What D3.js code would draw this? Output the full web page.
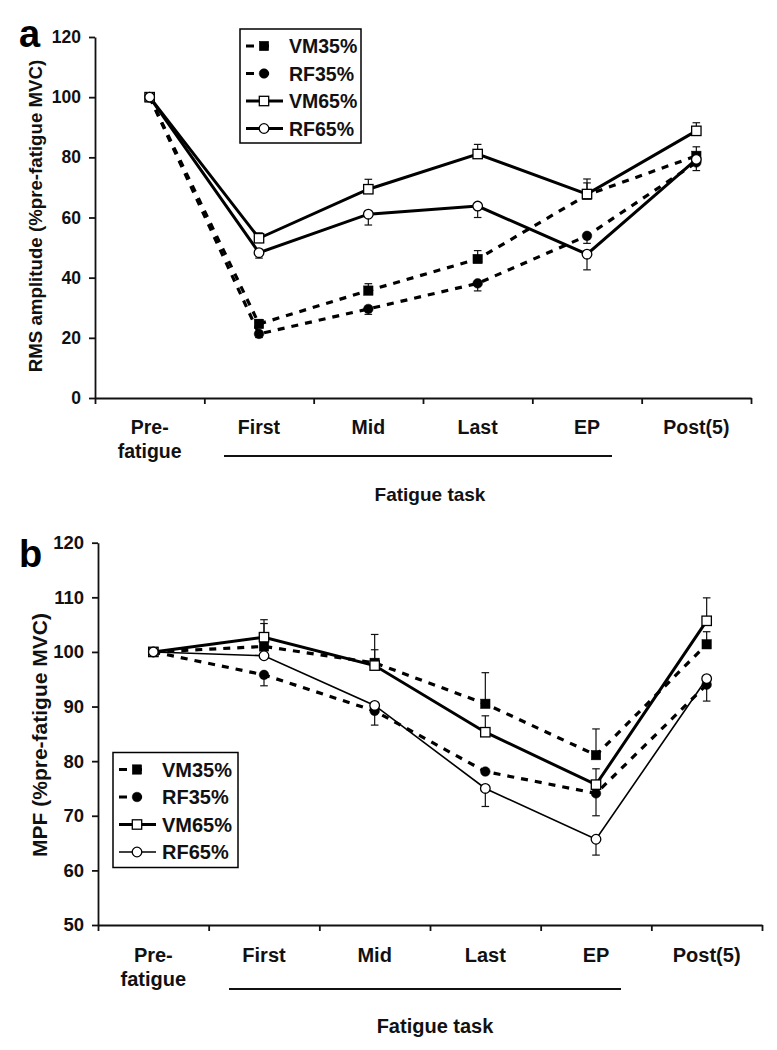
<!DOCTYPE html>
<html>
<head>
<meta charset="utf-8">
<script src="https://cdn.jsdelivr.net/npm/d3@7"></script>
<style>
  html, body { margin: 0; padding: 0; background: #fff; }
  svg text { font-family: "Liberation Sans", Arial, sans-serif; font-weight: bold; fill: #111; }
</style>
</head>
<body>
<svg id="chart" width="777" height="1050"></svg>
<script>
// ---------- DATA ----------
const categories = ["Pre-\nfatigue", "First", "Mid", "Last", "EP", "Post(5)"];
const seriesNames = ["VM35%", "RF35%", "VM65%", "RF65%"];

// Panel a: RMS amplitude (%pre-fatigue MVC)
const rmsVM35 = [100, 24.6, 35.7, 46.2, 67.5, 80.5];
const rmsRF35 = [100, 21.3, 29.6, 38.1, 53.9, 78.3];
const rmsVM65 = [100, 53.1, 69.4, 81.1, 67.8, 88.8];
const rmsRF65 = [100, 48.3, 61.1, 63.8, 47.8, 79.3];
// signed SE (positive = drawn upward, negative = downward)
const rmsVM35Err = [0, 1.5, 2.3, 2.8, 4.0, 3.0];
const rmsRF35Err = [0, -1.2, -1.8, -2.5, -2.5, -2.7];
const rmsVM65Err = [0, 1.8, 3.3, 3.2, 5.0, 2.7];
const rmsRF65Err = [0, -1.8, -3.6, -3.8, -5.2, 0];
const rmsTicks = [0, 20, 40, 60, 80, 100, 120];

// Panel b: MPF (%pre-fatigue MVC)
const mpfVM35 = [100, 101.0, 98.0, 90.5, 81.1, 101.4];
const mpfRF35 = [100, 95.8, 89.2, 78.1, 74.1, 94.0];
const mpfVM65 = [100, 102.7, 97.5, 85.3, 75.7, 105.7];
const mpfRF65 = [100, 99.3, 90.2, 75.0, 65.7, 95.1];
const mpfVM35Err = [0, 4.2, 5.2, 5.7, 4.8, 2.3];
const mpfRF35Err = [0, -2.0, -2.6, 0, -4.1, -3.0];
const mpfVM65Err = [0, 3.2, 2.9, 3.0, 2.9, 4.2];
const mpfRF65Err = [0, 0, 0, -3.3, -2.9, 0];
const mpfTicks = [50, 60, 70, 80, 90, 100, 110, 120];

// ---------- DRAWING ----------
const svg = d3.select("#chart");
const FONT = '"Liberation Sans", Arial, sans-serif';

function drawPanel(cfg) {
  const g = svg.append("g");
  const x = d3.scaleLinear().domain([0, categories.length]).range([cfg.x0, cfg.x1]);
  const y = d3.scaleLinear().domain(cfg.domain).range([cfg.y0, cfg.y1]);

  // axes
  const yAxis = d3.axisLeft(y).tickValues(cfg.ticks).tickSize(6).tickSizeOuter(0).tickPadding(8);
  const ya = g.append("g").attr("transform", `translate(${cfg.x0},0)`).call(yAxis);
  ya.attr("font-size", null).attr("font-family", null);
  ya.selectAll("path,line").attr("stroke", "#111").attr("stroke-width", 1.8);
  ya.selectAll("text")
    .style("font-size", cfg.tickFont + "px").style("font-family", FONT)
    .style("font-weight", "bold").style("fill", "#111");

  const xAxis = d3.axisBottom(x).tickValues(d3.range(categories.length + 1)).tickSize(6).tickSizeOuter(0).tickFormat("");
  const xa = g.append("g").attr("transform", `translate(0,${cfg.y0})`).call(xAxis);
  xa.selectAll("path,line").attr("stroke", "#111").attr("stroke-width", 1.8);

  // category labels
  categories.forEach((c, i) => {
    const lines = c.split("\n");
    const t = g.append("text").attr("x", x(i + 0.5)).attr("y", cfg.catY)
      .attr("text-anchor", "middle").style("font-size", cfg.catFont + "px");
    lines.forEach((l, k) => t.append("tspan").attr("x", x(i + 0.5)).attr("dy", k === 0 ? 0 : 24).text(l));
  });

  // fatigue task underline + title
  g.append("line").attr("x1", x(1.5) - 35).attr("x2", x(4.5) + 25)
    .attr("y1", cfg.underY).attr("y2", cfg.underY).attr("stroke", "#111").attr("stroke-width", 2);
  g.append("text").attr("x", cfg.xTitleX).attr("y", cfg.xTitleY)
    .attr("text-anchor", "middle").style("font-size", cfg.xTitleFont + "px").text("Fatigue task");

  // y label
  g.append("text").attr("transform", `translate(${cfg.yLabelX},${cfg.yLabelY}) rotate(-90)`)
    .attr("text-anchor", "middle").style("font-size", cfg.yLabelFont + "px").text(cfg.yLabel);

  // panel letter
  g.append("text").attr("x", 19).attr("y", cfg.letterY).style("font-size", "38px").style("fill", "#000").text(cfg.letter);

  const line = d3.line().x((d, i) => x(i + 0.5)).y(d => y(d));

  // error bars
  cfg.series.forEach(s => {
    s.values.forEach((v, i) => {
      const e = s.err[i];
      if (!e) return;
      const cx = x(i + 0.5);
      g.append("line").attr("x1", cx).attr("x2", cx).attr("y1", y(v)).attr("y2", y(v + e))
        .attr("stroke", "#111").attr("stroke-width", 1.2);
      g.append("line").attr("x1", cx - 3.8).attr("x2", cx + 3.8).attr("y1", y(v + e)).attr("y2", y(v + e))
        .attr("stroke", "#111").attr("stroke-width", 1.2);
    });
  });

  // lines
  cfg.series.forEach(s => {
    g.append("path").datum(s.values).attr("d", line).attr("fill", "none")
      .attr("stroke", "#000").attr("stroke-width", s.width)
      .attr("stroke-dasharray", s.dashed ? "7,7" : null);
  });

  // markers
  function marker(sel, s, cx, cy) {
    if (s.shape === "square") {
      sel.append("rect").attr("x", cx - 4.7).attr("y", cy - 4.7).attr("width", 9.4).attr("height", 9.4)
        .attr("fill", s.filled ? "#000" : "#fff").attr("stroke", "#000").attr("stroke-width", s.filled ? 0.5 : 1.3);
    } else {
      sel.append("circle").attr("cx", cx).attr("cy", cy).attr("r", 4.8)
        .attr("fill", s.filled ? "#000" : "#fff").attr("stroke", "#000").attr("stroke-width", s.filled ? 0.5 : 1.3);
    }
  }
  cfg.series.forEach(s => {
    s.values.forEach((v, i) => marker(g, s, x(i + 0.5), y(v)));
  });

  // legend
  const L = cfg.legend;
  g.append("rect").attr("x", L.x).attr("y", L.y).attr("width", L.w).attr("height", L.h)
    .attr("fill", "#fff").attr("stroke", "#000").attr("stroke-width", 1.5);
  cfg.series.forEach((s, k) => {
    const ly = L.y + 17 + k * 27.5;
    const lx0 = L.x + 6;
    if (s.dashed) {
      g.append("line").attr("x1", lx0).attr("x2", lx0 + 25).attr("y1", ly).attr("y2", ly)
        .attr("stroke", "#000").attr("stroke-width", 3).attr("stroke-dasharray", "8,7");
    } else {
      g.append("line").attr("x1", lx0).attr("x2", lx0 + 37).attr("y1", ly).attr("y2", ly)
        .attr("stroke", "#000").attr("stroke-width", s.width);
    }
    marker(g, s, lx0 + 18, ly);
    g.append("text").attr("x", lx0 + 43).attr("y", ly).attr("dy", "0.36em")
      .style("font-size", L.font + "px").text(seriesNames[k]);
  });
}

drawPanel({
  letter: "a", letterY: 47,
  x0: 95, x1: 751, y0: 398, y1: 37, domain: [0, 120], ticks: rmsTicks, tickFont: 17.5,
  catY: 434, catFont: 19.5, underY: 456,
  xTitleX: 430, xTitleY: 501, xTitleFont: 19,
  yLabel: "RMS amplitude (%pre-fatigue MVC)", yLabelX: 42, yLabelY: 216, yLabelFont: 18.7,
  legend: { x: 240, y: 29, w: 121, h: 114, font: 19.5 },
  series: [
    { values: rmsVM35, err: rmsVM35Err, shape: "square", filled: true, dashed: true, width: 3.2 },
    { values: rmsRF35, err: rmsRF35Err, shape: "circle", filled: true, dashed: true, width: 3.2 },
    { values: rmsVM65, err: rmsVM65Err, shape: "square", filled: false, dashed: false, width: 3 },
    { values: rmsRF65, err: rmsRF65Err, shape: "circle", filled: false, dashed: false, width: 3 }
  ]
});

drawPanel({
  letter: "b", letterY: 567,
  x0: 98, x1: 762, y0: 925, y1: 542.7, domain: [50, 120], ticks: mpfTicks, tickFont: 18.5,
  catY: 962, catFont: 20, underY: 989,
  xTitleX: 435, xTitleY: 1033, xTitleFont: 20,
  yLabel: "MPF (%pre-fatigue MVC)", yLabelX: 47, yLabelY: 735, yLabelFont: 21,
  legend: { x: 113, y: 752.5, w: 125, h: 115, font: 20 },
  series: [
    { values: mpfVM35, err: mpfVM35Err, shape: "square", filled: true, dashed: true, width: 3.2 },
    { values: mpfRF35, err: mpfRF35Err, shape: "circle", filled: true, dashed: true, width: 3.2 },
    { values: mpfVM65, err: mpfVM65Err, shape: "square", filled: false, dashed: false, width: 3 },
    { values: mpfRF65, err: mpfRF65Err, shape: "circle", filled: false, dashed: false, width: 1.6 }
  ]
});
</script>
</body>
</html>
